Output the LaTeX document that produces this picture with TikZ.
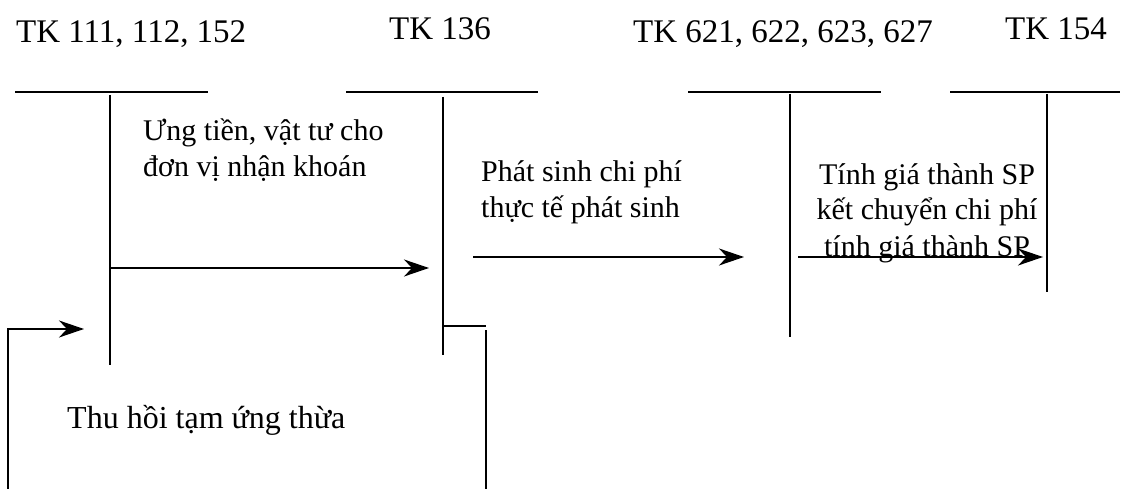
\documentclass[tikz,border=0pt]{standalone}
\usepackage{fontspec}
\setmainfont{Liberation Serif}
\usetikzlibrary{arrows.meta}
\begin{document}
\begin{tikzpicture}[x=1pt,y=-1pt,
  ln/.style={line width=1.9pt,line cap=butt},
  arr/.style={ln,-{Stealth[length=25pt,width=17pt,inset=8pt]}},
  head/.style={anchor=base west,inner sep=0pt,font=\fontsize{33}{36}\selectfont},
  note/.style={anchor=base west,inner sep=0pt,font=\fontsize{32}{36}\selectfont},
  lbl/.style={anchor=base west,inner sep=0pt,align=left,font=\fontsize{30}{36}\selectfont},
  lblc/.style={anchor=base,inner sep=0pt,align=center,font=\fontsize{30}{36}\selectfont}]
\useasboundingbox (0,0) rectangle (1135,489);
% headings
\node[head] (h1) at (16,43) {TK 111, 112, 152};
\node[head] (h2) at (389,40) {TK 136};
\node[head] (h3) at (633,43) {TK 621, 622, 623, 627};
\node[head] (h4) at (1005,40) {TK 154};
% T-accounts
\coordinate (a1l) at (15,92);  \coordinate (a1r) at (208,92);
\coordinate (a1t) at (110,95); \coordinate (a1b) at (110,365);
\coordinate (a2l) at (346,92); \coordinate (a2r) at (538,92);
\coordinate (a2t) at (443,97); \coordinate (a2b) at (443,355);
\coordinate (a3l) at (688,92); \coordinate (a3r) at (881,92);
\coordinate (a3t) at (790,94); \coordinate (a3b) at (790,337);
\coordinate (a4l) at (950,92); \coordinate (a4r) at (1120,92);
\coordinate (a4t) at (1047,94); \coordinate (a4b) at (1047,292);
\draw[ln] (a1l) -- (a1r); \draw[ln] (a1t) -- (a1b);
\draw[ln] (a2l) -- (a2r); \draw[ln] (a2t) -- (a2b);
\draw[ln] (a3l) -- (a3r); \draw[ln] (a3t) -- (a3b);
\draw[ln] (a4l) -- (a4r); \draw[ln] (a4t) -- (a4b);
% flows
\coordinate (f1s) at (110,268); \coordinate (f1e) at (429,268);
\coordinate (f2s) at (473,257); \coordinate (f2e) at (744,257);
\coordinate (f3s) at (798,257); \coordinate (f3e) at (1043,257);
\draw[arr] (f1s) -- (f1e);
\draw[arr] (f2s) -- (f2e);
\draw[arr] (f3s) -- (f3e);
% return
\coordinate (r1) at (443,326); \coordinate (r2) at (486,326);
\coordinate (r3) at (486,330); \coordinate (r4) at (486,489);
\coordinate (r5) at (8,489);   \coordinate (r6) at (8,329);
\coordinate (r7) at (84,329);
\draw[ln] (r1) -- (r2);
\draw[ln] (r3) -- (r4);
\draw[arr] (r5) -- (r6) -- (r7);
% labels (base anchor = last line's baseline)
\node[lbl] (t1) at (143,177) {Ưng tiền, vật tư cho\\đơn vị nhận khoán};
\node[lbl] (t2) at (481,218) {Phát sinh chi phí\\thực tế phát sinh};
\node[lblc] (t3) at (927,256) {Tính giá thành SP\\kết chuyển chi phí\\tính giá thành SP};
\node[note] (t4) at (67,428) {Thu hồi tạm ứng thừa};
\end{tikzpicture}
\end{document}
